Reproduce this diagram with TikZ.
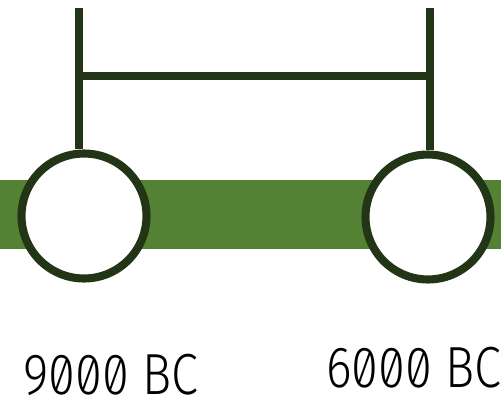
\documentclass[tikz,border=0pt]{standalone}
\usepackage{fontspec}
\newfontfamily\lblfont{Fira Sans Light}[RawFeature=+zero]
\definecolor{bandgreen}{HTML}{548235}
\definecolor{darkgreen}{HTML}{223516}
\tikzset{
  event/.style={circle,draw=darkgreen,fill=white,line width=4.6pt,minimum size=2.5cm,inner sep=0pt},
  stem/.style={darkgreen,line width=4.6pt},
  datelbl/.style={font=\lblfont\fontsize{33}{33}\selectfont,inner sep=0pt,text depth=0pt,anchor=base,xscale=0.84}
}
\begin{document}
\begin{tikzpicture}[x=0.02cm,y=-0.02cm]
\useasboundingbox (0,0) rectangle (501,400);
\fill[bandgreen] (0,180) rectangle (501,249);

\node[event] (e9000) at (84,216) {};
\node[event] (e6000) at (428,217) {};

\coordinate (t9000) at (79,8);
\coordinate (t6000) at (430,8);
\draw[stem] (t9000) -- (t9000 |- e9000.north);
\draw[stem] (t6000) -- (t6000 |- e6000.north);
\coordinate (b9000) at (79,76);
\coordinate (b6000) at (426,76);
\draw[stem] (b9000) -- (b6000);

\node[datelbl] (l9000) at (111,394) {9000 BC};
\node[datelbl] (l6000) at (414,387) {6000 BC};
\end{tikzpicture}
\end{document}
